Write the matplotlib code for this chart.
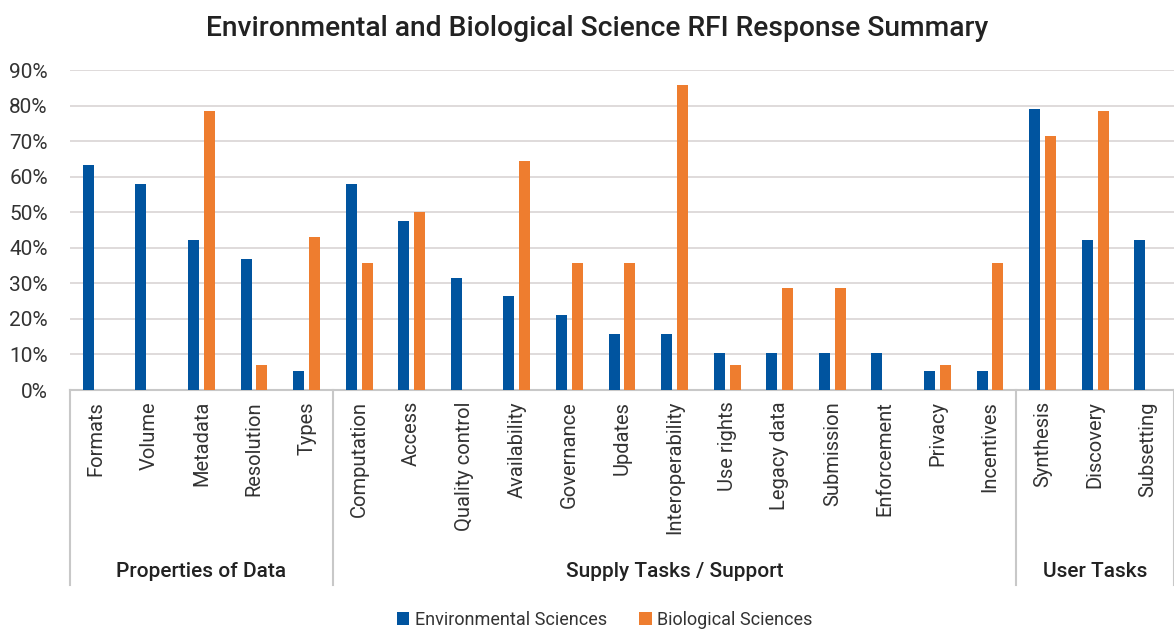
import numpy as np
import matplotlib.pyplot as plt
from matplotlib.ticker import PercentFormatter
import matplotlib.transforms as mtransforms

plt.rcParams['font.family'] = ['Roboto', 'DejaVu Sans']

categories = ["Formats", "Volume", "Metadata", "Resolution", "Types",
              "Computation", "Access", "Quality control", "Availability", "Governance",
              "Updates", "Interoperability", "Use rights", "Legacy data", "Submission",
              "Enforcement", "Privacy", "Incentives",
              "Synthesis", "Discovery", "Subsetting"]
groups = ["Properties of Data", "Supply Tasks / Support", "User Tasks"]
group_sizes = [5, 13, 3]

env_values = [63.2, 57.9, 42.1, 36.8, 5.3,
              57.9, 47.4, 31.6, 26.3, 21.1,
              15.8, 15.8, 10.5, 10.5, 10.5,
              10.5, 5.3, 5.3,
              78.9, 42.1, 42.1]
bio_values = [0, 0, 78.6, 7.1, 42.9,
              35.7, 50.0, 0, 64.3, 35.7,
              35.7, 85.7, 7.1, 28.6, 28.6,
              0, 7.1, 35.7,
              71.4, 78.6, 0]

blue = "#00549F"
orange = "#EE7D2F"

fig = plt.figure(figsize=(11.74, 6.3), dpi=100)
ax = fig.add_axes([70 / 1174, 240 / 630, 1104 / 1174, 320 / 630])

x = np.arange(len(categories))
w = 0.21
ax.bar(x - 0.15, env_values, w, color=blue, label="Environmental Sciences", zorder=3)
ax.bar(x + 0.15, bio_values, w, color=orange, label="Biological Sciences", zorder=3)

ax.set_xlim(-0.5, len(categories) - 0.5)
ax.set_ylim(0, 90)
ax.set_yticks(np.arange(0, 91, 10))
ax.yaxis.set_major_formatter(PercentFormatter(decimals=0))
ax.grid(axis="y", color="#D9D4D4", linewidth=1.2, zorder=0)
ax.tick_params(axis="y", length=0, pad=16, labelsize=15, labelcolor="#333333")
ax.set_xticks(x)
ax.set_xticklabels(categories, rotation=90, va="top", ha="center")
ax.tick_params(axis="x", length=0, pad=8, labelsize=14.5, labelcolor="#333333")

for s in ["top", "right", "left"]:
    ax.spines[s].set_visible(False)
ax.spines["bottom"].set_color("#C8C8C8")
ax.spines["bottom"].set_linewidth(1.5)

# group separators and labels
trans = mtransforms.blended_transform_factory(ax.transData, ax.transAxes)
start = -0.5
bounds = [start]
for g, n in zip(groups, group_sizes):
    end = start + n
    ax.text((start + end) / 2, -0.566, g, transform=trans, ha="center", va="center",
            fontsize=15, fontweight="medium", color="#222222")
    start = end
    bounds.append(end)
for b in bounds:
    ax.plot([b, b], [0, -0.61], transform=trans, color="#C8C8C8", linewidth=1.5, clip_on=False)

fig.suptitle("Environmental and Biological Science RFI Response Summary",
             x=597 / 1174, y=1 - 28 / 630, va="center", fontsize=20.3, fontweight="medium",
             color="#222222")

fig.legend(loc="center", bbox_to_anchor=(0.515, 1 - 620 / 630), ncol=2, frameon=False,
           fontsize=13, handlelength=0.7, handleheight=0.7, handletextpad=0.3,
           columnspacing=1.8, labelcolor="#333333")

fig.savefig("out.png", dpi=100)
